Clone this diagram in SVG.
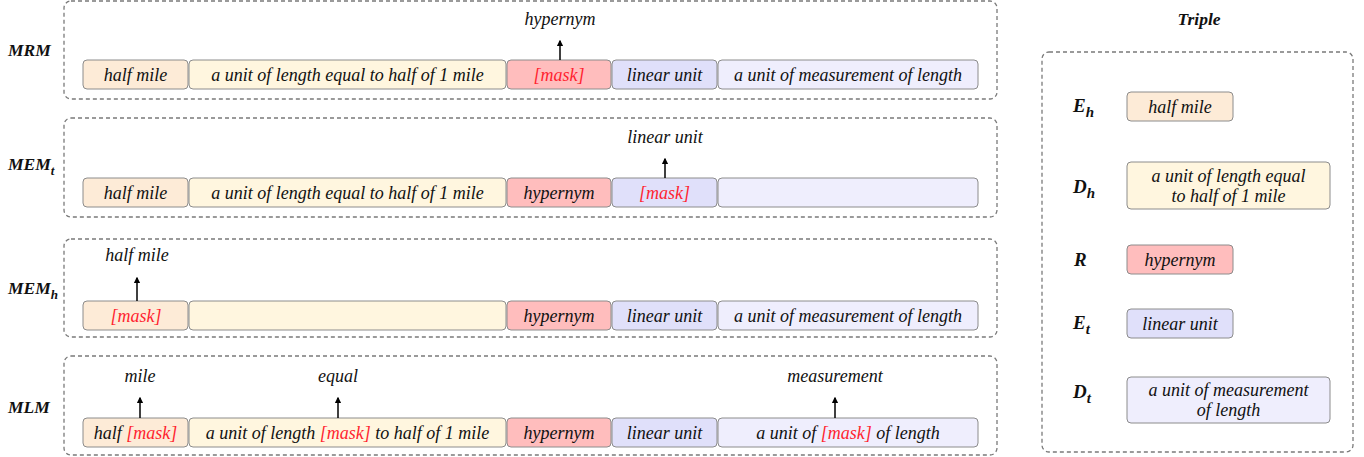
<svg xmlns="http://www.w3.org/2000/svg" width="1364" height="457" viewBox="0 0 1364 457">
  <style>
    .frame { fill: none; stroke: #7a7a7a; stroke-width: 1.3; stroke-dasharray: 4 3; }
    .tok { stroke: #8c8c8c; stroke-width: 1; }
    .eh { fill: #fdebd7; }
    .dh { fill: #fff6df; }
    .r  { fill: #ffbdbd; }
    .et { fill: #e0e0fa; }
    .dt { fill: #efeefd; }
    text { font-family: "Liberation Serif", "Times New Roman", serif; font-style: italic; font-size: 18px; fill: #111; text-anchor: middle; }
    .m { fill: #ff1f2f; }
    .lbl { font-weight: bold; font-size: 17.5px; text-anchor: start; }
    .big { font-weight: bold; font-size: 19px; text-anchor: start; }
    .arrow { stroke: #000; stroke-width: 1.5; fill: none; marker-end: url(#head); }
  </style>
  <defs>
    <marker id="head" viewBox="0 0 10 10" refX="8" refY="5" markerWidth="4.5" markerHeight="4.5" orient="auto">
      <path d="M0,0 L10,5 L0,10 Z" fill="#000"/>
    </marker>
  </defs>

  <!-- MRM row -->
  <g id="mrm">
    <rect class="frame" x="64" y="1" width="933" height="98" rx="7"/>
    <text class="lbl" x="8" y="56">MRM</text>
    <rect class="tok eh" x="83" y="60" width="105" height="29" rx="4"/>
    <rect class="tok dh" x="189" y="60" width="317" height="29" rx="4"/>
    <rect class="tok r" x="507" y="60" width="104" height="29" rx="4"/>
    <rect class="tok et" x="612" y="60" width="105" height="29" rx="4"/>
    <rect class="tok dt" x="718" y="60" width="260" height="29" rx="4"/>
    <text x="135.5" y="81">half mile</text>
    <text x="347.5" y="81">a unit of length equal to half of 1 mile</text>
    <text class="m" x="559" y="81">[mask]</text>
    <text x="664.5" y="81">linear unit</text>
    <text x="848" y="81">a unit of measurement of length</text>
    <text x="560" y="25">hypernym</text>
  </g>

  <!-- MEM_t row -->
  <g id="mem-t">
    <rect class="frame" x="64" y="118" width="933" height="99" rx="7"/>
    <text class="lbl" x="8" y="170">MEM<tspan font-size="13" dy="5">t</tspan></text>
    <rect class="tok eh" x="83" y="178" width="105" height="29" rx="4"/>
    <rect class="tok dh" x="189" y="178" width="317" height="29" rx="4"/>
    <rect class="tok r" x="507" y="178" width="104" height="29" rx="4"/>
    <rect class="tok et" x="612" y="178" width="105" height="29" rx="4"/>
    <rect class="tok dt" x="718" y="178" width="260" height="29" rx="4"/>
    <text x="135.5" y="199">half mile</text>
    <text x="347.5" y="199">a unit of length equal to half of 1 mile</text>
    <text x="559" y="199">hypernym</text>
    <text class="m" x="664.5" y="199">[mask]</text>
    <text x="665" y="143">linear unit</text>
  </g>

  <!-- MEM_h row -->
  <g id="mem-h">
    <rect class="frame" x="64" y="239" width="933" height="98" rx="7"/>
    <text class="lbl" x="8" y="294">MEM<tspan font-size="13" dy="5">h</tspan></text>
    <rect class="tok eh" x="83" y="301" width="105" height="29" rx="4"/>
    <rect class="tok dh" x="189" y="301" width="317" height="29" rx="4"/>
    <rect class="tok r" x="507" y="301" width="104" height="29" rx="4"/>
    <rect class="tok et" x="612" y="301" width="105" height="29" rx="4"/>
    <rect class="tok dt" x="718" y="301" width="260" height="29" rx="4"/>
    <text class="m" x="136" y="322">[mask]</text>
    <text x="559" y="322">hypernym</text>
    <text x="664.5" y="322">linear unit</text>
    <text x="848" y="322">a unit of measurement of length</text>
    <text x="137" y="261">half mile</text>
  </g>

  <!-- MLM row -->
  <g id="mlm">
    <rect class="frame" x="64" y="356" width="933" height="99" rx="7"/>
    <text class="lbl" x="8" y="413">MLM</text>
    <rect class="tok eh" x="83" y="418" width="105" height="29" rx="4"/>
    <rect class="tok dh" x="189" y="418" width="317" height="29" rx="4"/>
    <rect class="tok r" x="507" y="418" width="104" height="29" rx="4"/>
    <rect class="tok et" x="612" y="418" width="105" height="29" rx="4"/>
    <rect class="tok dt" x="718" y="418" width="260" height="29" rx="4"/>
    <text x="135.5" y="439">half <tspan class="m">[mask]</tspan></text>
    <text x="347.5" y="439">a unit of length <tspan class="m">[mask]</tspan> to half of 1 mile</text>
    <text x="559" y="439">hypernym</text>
    <text x="664.5" y="439">linear unit</text>
    <text x="848" y="439">a unit of <tspan class="m">[mask]</tspan> of length</text>
    <text x="140" y="382">mile</text>
    <text x="338" y="382">equal</text>
    <text x="835" y="382">measurement</text>
  </g>

  <!-- Triple panel -->
  <g id="triple">
    <text class="lbl" x="1199" y="25" font-size="17" text-anchor="middle" style="text-anchor: middle">Triple</text>
    <rect class="frame" x="1042" y="52" width="311" height="400" rx="7"/>
    <text class="big" x="1073" y="112">E<tspan font-size="15" dy="5">h</tspan></text>
    <rect class="tok eh" x="1127" y="92" width="106" height="29" rx="4"/>
    <text x="1180" y="113">half mile</text>
    <text class="big" x="1073" y="193">D<tspan font-size="15" dy="5">h</tspan></text>
    <rect class="tok dh" x="1127" y="162" width="203" height="47" rx="4"/>
    <text x="1228.5" y="182">a unit of length equal</text>
    <text x="1228.5" y="202">to half of 1 mile</text>
    <text class="big" x="1074" y="266">R</text>
    <rect class="tok r" x="1127" y="245" width="106" height="29" rx="4"/>
    <text x="1180" y="266">hypernym</text>
    <text class="big" x="1073" y="329">E<tspan font-size="15" dy="5">t</tspan></text>
    <rect class="tok et" x="1127" y="309" width="106" height="29" rx="4"/>
    <text x="1180" y="330">linear unit</text>
    <text class="big" x="1073" y="398">D<tspan font-size="15" dy="5">t</tspan></text>
    <rect class="tok dt" x="1127" y="377" width="203" height="46" rx="4"/>
    <text x="1228.5" y="396">a unit of measurement</text>
    <text x="1228.5" y="416">of length</text>
  </g>

  <!-- prediction arrows -->
  <g id="connectors">
    <line class="arrow" x1="560" y1="60" x2="560" y2="41"/>
    <line class="arrow" x1="665" y1="178" x2="665" y2="159"/>
    <line class="arrow" x1="137" y1="301" x2="137" y2="278"/>
    <line class="arrow" x1="140" y1="418" x2="140" y2="398"/>
    <line class="arrow" x1="338" y1="418" x2="338" y2="398"/>
    <line class="arrow" x1="835" y1="418" x2="835" y2="398"/>
  </g>
</svg>
